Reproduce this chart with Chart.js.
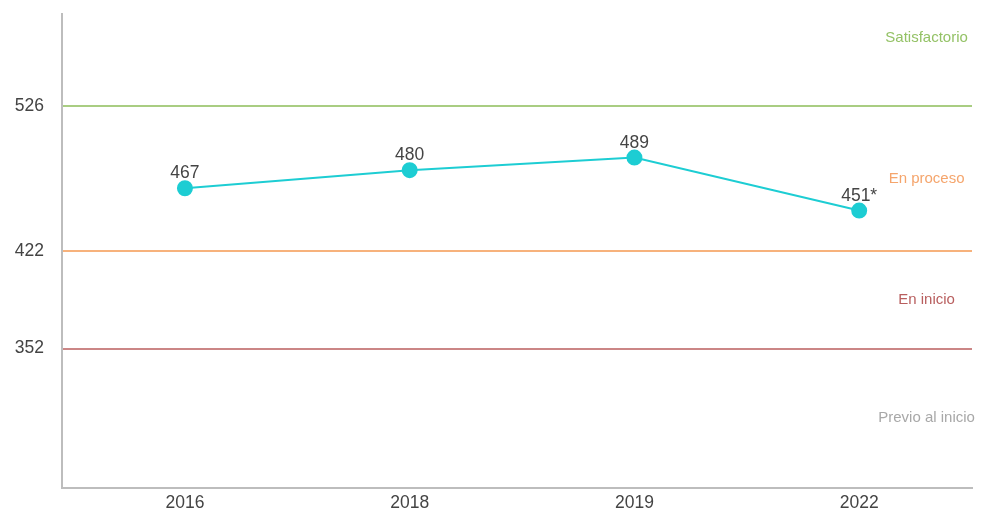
<!DOCTYPE html>
<html lang="es">
<head>
  <meta charset="UTF-8">
  <title>Resultados</title>
  <script src="https://cdn.jsdelivr.net/npm/chart.js"></script>
  <style>
    body { margin: 0; background: #ffffff; }
    #wrap { width: 981px; height: 510px; }
  </style>
</head>
<body>
  <div id="wrap">
    <canvas id="chart" width="981" height="510"></canvas>
  </div>

  <script>
  // datos
  const years = ['2016', '2018', '2019', '2022'];
  const scores = [467, 480, 489, 451];
  const scoreNotes = ['', '', '', '*'];

  const cutoffs = [526, 422, 352];
  const cutoffColors = ['#a9cd82', '#f7b27c', '#cb8686'];

  const bands = ['Satisfactorio', 'En proceso', 'En inicio', 'Previo al inicio'];
  const bandValues = [575, 474, 387, 302];
  const bandColors = ['#94c266', '#f5a56c', '#b85e5e', '#a8a8a8'];

  const fontFamily = '"Liberation Sans", Arial, sans-serif';

  // etiquetas de niveles a la derecha
  const bandLabels = {
    id: 'bandLabels',
    afterDatasetsDraw(chart) {
      const ctx = chart.ctx;
      const x = chart.scales.x.getPixelForValue(3.3);
      ctx.save();
      ctx.font = '15px ' + fontFamily;
      ctx.textAlign = 'center';
      ctx.textBaseline = 'middle';
      bands.forEach(function(name, i) {
        ctx.fillStyle = bandColors[i];
        ctx.fillText(name, x, chart.scales.y.getPixelForValue(bandValues[i]));
      });
      ctx.restore();
    }
  };

  // valores encima de los puntos
  const pointLabels = {
    id: 'pointLabels',
    afterDatasetsDraw(chart) {
      const ctx = chart.ctx;
      const meta = chart.getDatasetMeta(0);
      ctx.save();
      ctx.font = '17.5px ' + fontFamily;
      ctx.fillStyle = '#444444';
      ctx.textAlign = 'center';
      ctx.textBaseline = 'alphabetic';
      meta.data.forEach(function(pt, i) {
        ctx.fillText(scores[i] + scoreNotes[i], pt.x, pt.y - 10);
      });
      ctx.restore();
    }
  };

  const ctx = document.getElementById('chart').getContext('2d');
  const chart = new Chart(ctx, {
    type: 'line',
    data: {
      datasets: [{
        data: scores.map(function(v, i) { return { x: i, y: v }; }),
        borderColor: '#1dcdd3',
        backgroundColor: '#1dcdd3',
        borderWidth: 2,
        pointRadius: 7,
        pointHoverRadius: 7,
        fill: false
      }]
    },
    options: {
      responsive: false,
      animation: false,
      layout: { padding: { top: 14, right: 8, left: 0, bottom: 0 } },
      scales: {
        x: {
          type: 'linear',
          min: -0.547,
          max: 3.502,
          afterBuildTicks: function(axis) {
            axis.ticks = years.map(function(_, i) { return { value: i }; });
          },
          afterFit: function(axis) {
            axis.height = 22;
            axis.paddingLeft = 0;
            axis.paddingRight = 0;
          },
          grid: { display: false, drawTicks: false },
          border: { display: true, color: '#bdbdbd', width: 2 },
          ticks: {
            padding: 5,
            color: '#444444',
            font: { size: 17.5, family: fontFamily },
            callback: function(v) { return years[v]; }
          }
        },
        y: {
          min: 252,
          max: 592,
          afterBuildTicks: function(axis) {
            axis.ticks = cutoffs.map(function(v) { return { value: v }; });
          },
          afterFit: function(axis) {
            axis.width = 62;
            axis.paddingTop = 0;
            axis.paddingBottom = 0;
          },
          grid: {
            drawTicks: false,
            lineWidth: 2,
            color: function(c) {
              const i = cutoffs.indexOf(c.tick ? c.tick.value : null);
              return i > -1 ? cutoffColors[i] : 'rgba(0,0,0,0)';
            }
          },
          border: { display: true, color: '#bdbdbd', width: 2 },
          ticks: {
            padding: 18,
            color: '#444444',
            font: { size: 17.5, family: fontFamily }
          }
        }
      },
      plugins: {
        legend: { display: false },
        tooltip: { enabled: false }
      }
    },
    plugins: [bandLabels, pointLabels]
  });
  </script>
</body>
</html>
